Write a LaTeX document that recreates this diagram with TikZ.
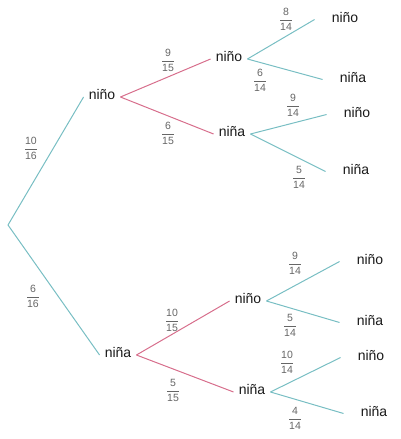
\documentclass[tikz,border=0pt]{standalone}
\usepackage{amsmath}
\usepackage{fontspec}
\setmainfont{Liberation Sans}
\usepackage{tikz}
\usetikzlibrary{positioning}
\usetikzlibrary{calc}
\definecolor{branchteal}{RGB}{120,190,195}
\definecolor{branchpink}{RGB}{215,110,140}
\tikzstyle{vertex}=[inner xsep=5pt,inner ysep=0pt,text height=1ex,text depth=0pt,font=\fontsize{14}{16}\selectfont,text=black!90]
\tikzstyle{leaf}=[vertex,inner xsep=17pt]
\tikzstyle{tealedge} = [draw,line width=1pt,branchteal]
\tikzstyle{pinkedge} = [draw,line width=1pt,branchpink]
\tikzstyle{weight} = [font=\fontsize{10.5}{12}\selectfont,text=black!60,inner sep=0pt]
\newcommand{\frc}[2]{$\dfrac{\text{#1}}{\text{#2}}$}

\begin{document}
\begin{tikzpicture}[x=1pt,y=-1pt,auto,swap]
    \useasboundingbox (0,0) rectangle (400,439);
    % Draw the tree of children
    % First we draw the vertices
    \coordinate (R) at (8,225);
    \foreach \pos/\name/\label in {{(102,97)/N1/niño}, {(118,355)/A1/niña},
        {(229,59)/N2/niño}, {(232,134)/A2/niña}, {(248,301)/N3/niño}, {(252,392)/A3/niña}}
        \node[vertex] (\name) at \pos {\label};
    \foreach \pos/\name/\label in {{(345,19.5)/L1/niño}, {(353,79.5)/L2/niña},
        {(357,114.5)/L3/niño}, {(356,171.5)/L4/niña}, {(370,261.5)/L5/niño},
        {(370,322.5)/L6/niña}, {(371,357.5)/L7/niño}, {(374,413.5)/L8/niña}}
        \node[leaf] (\name) at \pos {\label};

    % Connect vertices with edges and put the probabilities
    \foreach \source/\dest/\pos/\num/\den [count=\i] in {R/N1/{(31,148)}/10/16, R/A1/{(33,296)}/6/16}
        {\path[tealedge] (\source) -- (\dest.west);
         \node[weight] (w\i) at \pos {\frc{\num}{\den}};}
    \foreach \source/\dest/\pos/\num/\den [count=\i] in {N1/N2/{(168,60)}/9/15, N1/A2/{(168,133)}/6/15,
        A1/N3/{(172,320)}/10/15, A1/A3/{(173,390)}/5/15}
        {\path[pinkedge] (\source.east) -- (\dest.west);
         \node[weight] (p\i) at \pos {\frc{\num}{\den}};}
    \foreach \source/\dest/\pos/\num/\den [count=\i] in {N2/L1/{(286,19)}/8/14, N2/L2/{(260,80)}/6/14,
        A2/L3/{(293,105)}/9/14, A2/L4/{(299,177)}/5/14, N3/L5/{(295,263)}/9/14,
        N3/L6/{(290,325)}/5/14, A3/L7/{(287,362)}/10/14, A3/L8/{(295,418)}/4/14}
        {\path[tealedge] (\source.east) -- (\dest.west);
         \node[weight] (t\i) at \pos {\frc{\num}{\den}};}
\end{tikzpicture}
\end{document}
